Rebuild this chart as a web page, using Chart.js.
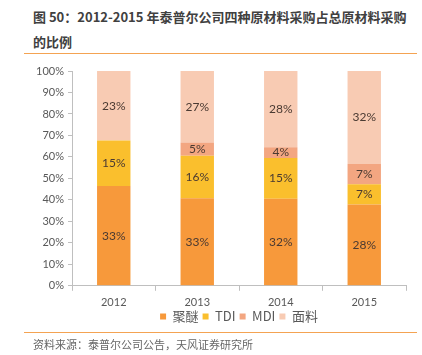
<!DOCTYPE html>
<html><head><meta charset="utf-8">
<script src="https://cdn.jsdelivr.net/npm/chart.js@4"></script>
<style>
html,body{margin:0;padding:0;background:#fff;}
body{width:422px;height:355px;position:relative;overflow:hidden;font-family:"Noto Sans CJK SC",sans-serif;}
#title{position:absolute;left:33px;top:4px;width:385px;font-size:13px;font-weight:bold;color:#404040;line-height:25px;}
.line{position:absolute;left:24px;width:393px;height:1px;background:#F4A352;}
#src{position:absolute;left:33px;top:336px;font-size:11px;color:#666;}
#wrap{position:absolute;left:0;top:55px;width:422px;height:289px;}
</style></head><body>
<div id="title">图 50：2012-2015 年泰普尔公司四种原材料采购占总原材料采购的比例</div>
<div id="wrap"><canvas id="c"></canvas></div>
<div class="line" style="top:53px"></div>
<div class="line" style="top:332px"></div>
<div id="src">资料来源：泰普尔公司公告，天风证券研究所</div>
<script>
const categories = ["2012","2013","2014","2015"];
const seriesNames = ["聚醚","TDI","MDI","面料"];
const polyether = [33,33,32,28];
const tdi = [15,16,15,7];
const mdi = [0,5,4,7];
const fabric = [23,27,28,32];
const yTicks = [0,10,20,30,40,50,60,70,80,90,100];
const colors = ["#F7993B","#FABF2D","#F3A681","#F8CBB3"];

const raw = [polyether,tdi,mdi,fabric];
const totals = categories.map((_,i)=>raw.reduce((s,a)=>s+a[i],0));
const datasets = raw.map((arr,k)=>({
  label: seriesNames[k],
  data: arr.map((v,i)=>v/totals[i]*100),
  rawValues: arr,
  backgroundColor: colors[k],
  borderWidth: 0,
  barPercentage: 0.4,
  categoryPercentage: 1.0
}));

const labelPlugin = {
  id:'vals',
  afterLayout(chart){
    if(chart.legend){ chart.legend.top -= 8; chart.legend.bottom -= 8; }
  },
  afterDatasetsDraw(chart){
    const ctx = chart.ctx;
    ctx.save();
    ctx.font = '12px Lato';
    ctx.fillStyle = '#4a3a32';
    ctx.textAlign='center';
    ctx.textBaseline='middle';
    chart.data.datasets.forEach((ds,di)=>{
      const meta = chart.getDatasetMeta(di);
      meta.data.forEach((bar,i)=>{
        const v = ds.rawValues[i];
        if(!v) return;
        const cy = (bar.y + bar.base)/2;
        ctx.fillText(v+'%', bar.x, cy);
      });
    });
    ctx.restore();
  }
};

new Chart(document.getElementById('c'),{
  type:'bar',
  data:{labels:categories,datasets},
  options:{
    responsive:true,maintainAspectRatio:false,animation:false,
    layout:{padding:{left:0,right:16,top:16,bottom:3}},
    plugins:{
      legend:{position:'bottom',fullSize:false,labels:{boxWidth:6,boxHeight:6,padding:4,color:'#595959',font:{size:13,family:'"Noto Sans CJK SC", Lato'}}},
      tooltip:{enabled:false}
    },
    scales:{
      x:{stacked:true,
        grid:{drawOnChartArea:false,drawTicks:true,tickLength:5,color:'#bfbfbf',offset:true},
        border:{color:'#bfbfbf'},
        ticks:{color:'#595959',font:{size:11,family:'Lato'},padding:5}
      },
      y:{stacked:true,min:0,max:100,
        afterBuildTicks(s){s.ticks = yTicks.map(v=>({value:v}));},
        afterFit(s){s.width=72;},
        grid:{drawOnChartArea:false,drawTicks:true,tickLength:4,color:'#bfbfbf'},
        border:{color:'#bfbfbf'},
        ticks:{color:'#595959',font:{size:11,family:'Lato'},padding:4,callback:v=>v+'%'}
      }
    }
  },
  plugins:[labelPlugin]
});
</script>
</body></html>
